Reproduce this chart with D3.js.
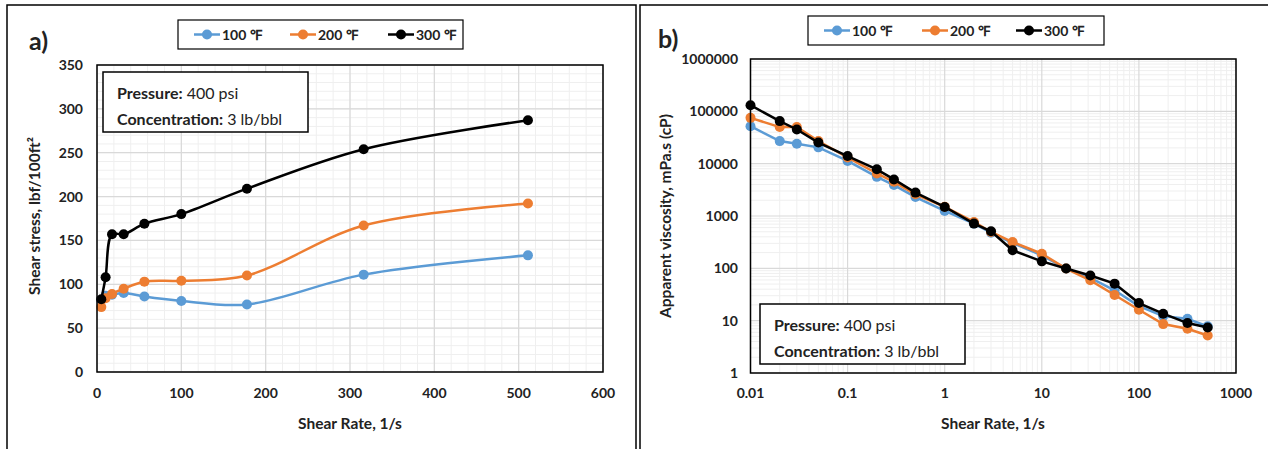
<!DOCTYPE html>
<html>
<head>
<meta charset="utf-8">
<title>Shear stress and viscosity</title>
<script src="https://d3js.org/d3.v7.min.js"></script>
<style>
    body { margin: 0; background: #fff; }
    svg { font-family: Lato, "Open Sans", sans-serif; }
    .tick-label { font-size: 14px; font-weight: bold; fill: #222; }
    .axis-title { font-size: 15.5px; font-weight: bold; fill: #222; }
</style>
</head>
<body>
<div id="chart"></div>
<script>
// ---- data ----
var seriesNames = ["100 \u2109", "200 \u2109", "300 \u2109"];
var seriesColors = ["#5B9BD5", "#ED7D31", "#000000"];

// a) shear stress vs shear rate
var stressRate = [5.1, 10.2, 17.8, 31.6, 56.2, 100, 177.8, 316.2, 511];
var stress100 = [82, 87, 88, 90, 86, 81, 77, 111, 133];
var stress200 = [74, 84, 89, 95, 103, 104, 110, 167, 192];
var stress300 = [83, 108, 157, 157, 169, 180, 209, 254, 287];
var stressTicksX = [0, 100, 200, 300, 400, 500, 600];
var stressTicksY = [0, 50, 100, 150, 200, 250, 300, 350];

// b) apparent viscosity vs shear rate
var viscRate = [0.01, 0.02, 0.03, 0.05, 0.1, 0.2, 0.3, 0.5, 1, 2, 3, 5, 10, 17.8, 31.6, 56.2, 100, 177.8, 316.2, 511];
var visc100 = [52000, 27000, 24000, 20500, 11300, 5600, 3900, 2300, 1250, 715, 480, 305, 177, 99, 66, 38, 19, 12.2, 10.9, 7.8];
var visc200 = [75000, 50000, 50000, 27000, 13100, 6500, 4500, 2600, 1500, 770, 495, 318, 190, 99, 59, 31, 16.2, 8.6, 7, 5.2];
var visc300 = [131000, 65000, 45000, 25300, 14000, 7800, 5000, 2800, 1490, 716, 510, 221, 136, 99, 73, 51, 21.7, 13.6, 9, 7.4];
var viscTicksX = [0.01, 0.1, 1, 10, 100, 1000];
var viscTicksY = [1, 10, 100, 1000, 10000, 100000, 1000000];

var svg = d3.select("#chart").append("svg")
    .attr("width", 1268)
    .attr("height", 449);

// panel borders
svg.append("path").attr("d", "M7,449V5H636V449").attr("fill", "none").attr("stroke", "#000").attr("stroke-width", 1.5);
svg.append("path").attr("d", "M640,449V5H1270").attr("fill", "none").attr("stroke", "#000").attr("stroke-width", 1.5);

function drawGrid(g, x, y, xMinor, yMinor, xMajor, yMajor) {
    var x0 = x.range()[0], x1 = x.range()[1], y0 = y.range()[0], y1 = y.range()[1];
    g.selectAll(".vminor").data(xMinor).enter().append("line")
        .attr("x1", d => x(d)).attr("x2", d => x(d)).attr("y1", y0).attr("y2", y1)
        .attr("stroke", "#efefef").attr("stroke-width", 1);
    g.selectAll(".hminor").data(yMinor).enter().append("line")
        .attr("y1", d => y(d)).attr("y2", d => y(d)).attr("x1", x0).attr("x2", x1)
        .attr("stroke", "#efefef").attr("stroke-width", 1);
    g.selectAll(".vmajor").data(xMajor).enter().append("line")
        .attr("x1", d => x(d)).attr("x2", d => x(d)).attr("y1", y0).attr("y2", y1)
        .attr("stroke", "#d9d9d9").attr("stroke-width", 1.2);
    g.selectAll(".hmajor").data(yMajor).enter().append("line")
        .attr("y1", d => y(d)).attr("y2", d => y(d)).attr("x1", x0).attr("x2", x1)
        .attr("stroke", "#d9d9d9").attr("stroke-width", 1.2);
}

function drawFrame(g, x, y) {
    g.append("rect")
        .attr("x", x.range()[0]).attr("y", y.range()[1])
        .attr("width", x.range()[1] - x.range()[0])
        .attr("height", y.range()[0] - y.range()[1])
        .attr("fill", "none").attr("stroke", "#000").attr("stroke-width", 1.5);
}

function drawSeries(g, x, y, xs, ys, color, curve) {
    var pts = xs.map((d, i) => [d, ys[i]]);
    var line = d3.line().x(d => x(d[0])).y(d => y(d[1])).curve(curve);
    g.append("path").datum(pts)
        .attr("d", line).attr("fill", "none")
        .attr("stroke", color).attr("stroke-width", 2.5);
    g.selectAll(null).data(pts).enter().append("circle")
        .attr("cx", d => x(d[0])).attr("cy", d => y(d[1]))
        .attr("r", 5).attr("fill", color);
}

function drawLegend(g, left, top, width, offsets) {
    g.append("rect").attr("x", left).attr("y", top).attr("width", width).attr("height", 29)
        .attr("fill", "#fff").attr("stroke", "#000").attr("stroke-width", 1.2);
    seriesNames.forEach(function(name, i) {
        var lx = left + offsets[i];
        g.append("line").attr("x1", lx).attr("x2", lx + 26).attr("y1", top + 14.5).attr("y2", top + 14.5)
            .attr("stroke", seriesColors[i]).attr("stroke-width", 2.5);
        g.append("circle").attr("cx", lx + 13).attr("cy", top + 14.5).attr("r", 5).attr("fill", seriesColors[i]);
        g.append("text").attr("x", lx + 28).attr("y", top + 19.5)
            .attr("font-size", 14).attr("font-weight", "bold").attr("fill", "#222")
            .text(name);
    });
}

function drawNote(g, left, top) {
    g.append("rect").attr("x", left).attr("y", top).attr("width", 205).attr("height", 60)
        .attr("fill", "#fff").attr("stroke", "#000").attr("stroke-width", 1.5);
    var t1 = g.append("text").attr("x", left + 14).attr("y", top + 27).attr("font-size", 16).attr("fill", "#222");
    t1.append("tspan").attr("font-weight", "bold").text("Pressure:");
    t1.append("tspan").text(" 400 psi");
    var t2 = g.append("text").attr("x", left + 14).attr("y", top + 53).attr("font-size", 16).attr("fill", "#222");
    t2.append("tspan").attr("font-weight", "bold").text("Concentration:");
    t2.append("tspan").text(" 3 lb/bbl");
}

// ---------- panel a ----------
var ga = svg.append("g");
var xa = d3.scaleLinear().domain([0, 600]).range([97, 603]);
var ya = d3.scaleLinear().domain([0, 350]).range([372, 65]);

drawGrid(ga, xa, ya, d3.range(0, 601, 20), d3.range(0, 351, 10), stressTicksX, stressTicksY);

var smooth = d3.curveCatmullRom.alpha(0.5);
drawSeries(ga, xa, ya, stressRate, stress100, seriesColors[0], smooth);
drawSeries(ga, xa, ya, stressRate, stress200, seriesColors[1], smooth);
drawSeries(ga, xa, ya, stressRate, stress300, seriesColors[2], smooth);
drawFrame(ga, xa, ya);

ga.selectAll(".xt").data(stressTicksX).enter().append("text")
    .attr("class", "tick-label").attr("x", d => xa(d)).attr("y", 398)
    .attr("text-anchor", "middle").text(d => d);
ga.selectAll(".yt").data(stressTicksY).enter().append("text")
    .attr("class", "tick-label").attr("x", 83).attr("y", d => ya(d) + 5)
    .attr("text-anchor", "end").text(d => d);

ga.append("text").attr("class", "axis-title").attr("x", 350).attr("y", 429)
    .attr("text-anchor", "middle").text("Shear Rate, 1/s");
ga.append("text").attr("class", "axis-title")
    .attr("transform", "translate(40,216) rotate(-90)")
    .attr("text-anchor", "middle").text("Shear stress, lbf/100ft\u00b2");

ga.append("text").attr("x", 29).attr("y", 50).attr("font-size", 25).attr("font-weight", "bold")
    .attr("fill", "#222").text("a)");

drawLegend(ga, 178, 20, 285, [16, 112, 210]);
drawNote(ga, 103, 72);

// ---------- panel b ----------
var gb = svg.append("g");
var xb = d3.scaleLog().domain([0.01, 1000]).range([750.5, 1236]);
var yb = d3.scaleLog().domain([1, 1000000]).range([373, 59]);

var xMinorB = [];
viscTicksX.slice(0, -1).forEach(function(d) {
    for (var k = 2; k < 10; k++) xMinorB.push(d * k);
});
var yMinorB = [];
viscTicksY.slice(0, -1).forEach(function(d) {
    for (var k = 2; k < 10; k++) yMinorB.push(d * k);
});
drawGrid(gb, xb, yb, xMinorB, yMinorB, viscTicksX, viscTicksY);

drawSeries(gb, xb, yb, viscRate, visc100, seriesColors[0], d3.curveLinear);
drawSeries(gb, xb, yb, viscRate, visc200, seriesColors[1], d3.curveLinear);
drawSeries(gb, xb, yb, viscRate, visc300, seriesColors[2], d3.curveLinear);
drawFrame(gb, xb, yb);

gb.selectAll(".xt").data(viscTicksX).enter().append("text")
    .attr("class", "tick-label").attr("x", d => xb(d)).attr("y", 398)
    .attr("text-anchor", "middle").text(d => String(d));
gb.selectAll(".yt").data(viscTicksY).enter().append("text")
    .attr("class", "tick-label").attr("x", 738).attr("y", d => yb(d) + 5)
    .attr("text-anchor", "end").text(d => String(d));

gb.append("text").attr("class", "axis-title").attr("x", 993).attr("y", 429)
    .attr("text-anchor", "middle").text("Shear Rate, 1/s");
gb.append("text").attr("class", "axis-title")
    .attr("transform", "translate(671,216) rotate(-90)")
    .attr("text-anchor", "middle").text("Apparent viscosity, mPa.s (cP)");

gb.append("text").attr("x", 658).attr("y", 48).attr("font-size", 25).attr("font-weight", "bold")
    .attr("fill", "#222").text("b)");

drawLegend(gb, 808, 16, 296, [16, 114, 208]);
drawNote(gb, 760, 304);
</script>
</body>
</html>
